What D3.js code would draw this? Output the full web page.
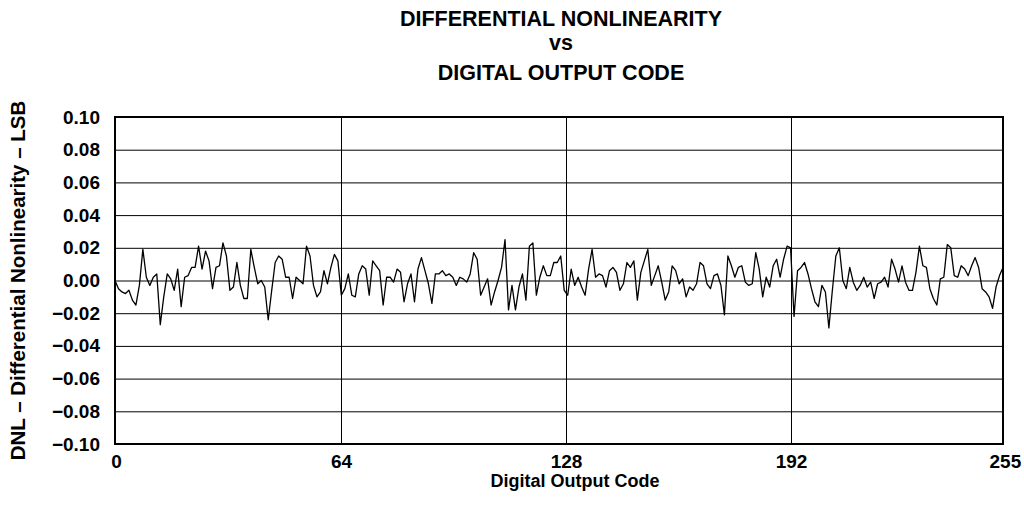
<!DOCTYPE html>
<html>
<head>
<meta charset="utf-8">
<script src="https://cdn.jsdelivr.net/npm/d3@7"></script>
<style>
  body { margin: 0; background: #fff; }
  text { font-family: "Liberation Sans", Arial, sans-serif; font-weight: bold; fill: #000; }
</style>
</head>
<body>
<div id="chart"></div>
<script>
// DNL per output code (LSB)
var dnl = [
    0.000, -0.005, -0.007, -0.008, -0.006, -0.012, -0.015, -0.003, 0.019, 0.002, -0.003, 0.002, 0.004, -0.027, -0.010, 0.004, 0.001, -0.006, 0.007, -0.016, 0.002, 0.003, 0.008,
    0.008, 0.021, 0.007, 0.018, 0.012, -0.005, 0.008, 0.009, 0.023, 0.015, -0.006, -0.004, 0.011, -0.003, -0.011, -0.011, 0.019, 0.008, -0.002, 0.000, -0.004,
    -0.024, -0.006, 0.011, 0.015, 0.013, 0.002, 0.002, -0.011, 0.002, 0.000, -0.002, 0.021, 0.015, -0.003, -0.010, -0.007, 0.006, -0.002, 0.008, 0.016, 0.012,
    -0.009, -0.005, 0.004, -0.009, -0.010, 0.004, 0.009, 0.007, -0.009, 0.012, 0.009, 0.006, -0.015, 0.002, 0.002, -0.001, 0.007, 0.005, -0.013, -0.002, 0.004,
    -0.013, 0.007, 0.014, 0.006, -0.002, -0.014, 0.004, 0.004, 0.006, 0.003, 0.004, 0.002, -0.003, 0.002, 0.001, -0.001, 0.004, 0.017, 0.013, -0.009, -0.004, 0.001,
    -0.015, -0.007, 0.000, 0.008, 0.025, -0.018, -0.003, -0.018, -0.004, 0.004, -0.012, 0.021, 0.023, -0.009, 0.002, 0.009, 0.003, 0.003, 0.011, 0.011, 0.015,
    -0.006, -0.009, 0.007, -0.003, 0.002, -0.004, -0.009, 0.007, 0.019, 0.002, 0.004, 0.003, -0.004, 0.006, 0.008, 0.005, -0.006, -0.002, 0.011, 0.008, 0.012, -0.012,
    0.005, 0.012, 0.019, -0.003, 0.003, 0.009, -0.001, -0.012, -0.007, 0.009, 0.006, -0.002, 0.001, -0.010, -0.004, -0.006, -0.002, 0.011, 0.009, -0.002, -0.005,
    0.003, 0.004, -0.003, -0.021, 0.015, 0.009, 0.002, 0.008, 0.009, -0.001, -0.003, -0.002, 0.017, 0.007, -0.010, 0.002, -0.004, 0.009, 0.013, 0.002, 0.013, 0.021,
    0.020, -0.022, 0.006, 0.008, 0.011, 0.004, -0.005, -0.013, -0.016, -0.003, -0.007, -0.029, -0.006, 0.015, 0.020, 0.000, -0.005, 0.008, -0.001, -0.006,
    -0.003, 0.002, -0.004, -0.001, -0.011, -0.002, -0.001, 0.002, -0.004, 0.013, 0.007, -0.001, 0.009, -0.001, -0.006, -0.006, 0.005, 0.021, 0.009, 0.008, -0.005,
    -0.011, -0.015, 0.001, 0.002, 0.022, 0.020, 0.003, 0.002, 0.009, 0.007, 0.003, 0.009, 0.014, 0.008, -0.005, -0.007, -0.010, -0.017, -0.004, 0.003, 0.008
];
var xGrid = [64, 128, 192];
var xTicks = [0, 64, 128, 192, 255];
var yTicks = [-0.10, -0.08, -0.06, -0.04, -0.02, 0.00, 0.02, 0.04, 0.06, 0.08, 0.10];
var titleLines = ["DIFFERENTIAL NONLINEARITY", "vs", "DIGITAL OUTPUT CODE"];

var width = 1024;
var height = 523;
var plotLeft = 115, plotRight = 1003, plotTop = 117, plotBottom = 444;

var svg = d3.select("#chart")
    .append("svg")
    .attr("width", width)
    .attr("height", height);

// data scale: codes 0..255 across the frame
var x = d3.scaleLinear().domain([0, 255]).range([plotLeft, plotRight]);
// the printed axis divisions are 0/64/128/192 on a slightly wider pitch
var xAxisScale = d3.scaleLinear().domain([0, 252.3]).range([plotLeft + 1, plotRight]);
var y = d3.scaleLinear().domain([-0.10, 0.10]).range([plotBottom, plotTop]);

// horizontal grid
svg.append("g")
    .attr("transform", "translate(" + plotLeft + ",0)")
    .call(d3.axisLeft(y).tickValues(yTicks).tickSize(-(plotRight - plotLeft)).tickFormat(""))
    .call(function (g) { g.select(".domain").remove(); })
    .selectAll("line")
    .attr("stroke", "#000")
    .attr("stroke-width", 1);

// vertical grid
svg.append("g")
    .attr("transform", "translate(0," + plotBottom + ")")
    .call(d3.axisBottom(xAxisScale).tickValues(xGrid).tickSize(-(plotBottom - plotTop)).tickFormat(""))
    .call(function (g) { g.select(".domain").remove(); })
    .selectAll("line")
    .attr("stroke", "#000")
    .attr("stroke-width", 1);

// data
var line = d3.line()
    .x(function (d, i) { return x(i); })
    .y(function (d) { return y(d); });

svg.append("path")
    .datum(dnl)
    .attr("d", line)
    .attr("fill", "none")
    .attr("stroke", "#000")
    .attr("stroke-width", 1.3)
    .attr("stroke-linejoin", "round");

// frame
svg.append("rect")
    .attr("x", plotLeft)
    .attr("y", plotTop)
    .attr("width", plotRight - plotLeft)
    .attr("height", plotBottom - plotTop)
    .attr("fill", "none")
    .attr("stroke", "#000")
    .attr("stroke-width", 2);

// tick labels
var yAxis = svg.append("g")
    .attr("transform", "translate(" + (plotLeft - 12) + ",0)")
    .call(d3.axisLeft(y).tickValues(yTicks).tickSize(0)
        .tickFormat(function (d) { return d3.format(".2f")(d).replace("-", "\u2212"); }));
yAxis.select(".domain").remove();
yAxis.selectAll("text")
    .attr("font-size", "19px")
    .attr("font-family", "Liberation Sans, Arial, sans-serif")
    .attr("font-weight", "bold");

var xAxis = svg.append("g")
    .attr("transform", "translate(0," + (plotBottom + 7) + ")")
    .call(d3.axisBottom(xAxisScale).tickValues(xTicks).tickSize(0).tickFormat(d3.format("d")));
xAxis.select(".domain").remove();
xAxis.selectAll("text")
    .attr("font-size", "19px")
    .attr("font-family", "Liberation Sans, Arial, sans-serif")
    .attr("font-weight", "bold")
    .attr("dx", function (d) { return d === 255 ? "-0.4em" : 0; });

// titles
svg.selectAll(".title")
    .data(titleLines)
    .enter()
    .append("text")
    .attr("class", "title")
    .attr("x", 561)
    .attr("y", function (d, i) { return [26, 50, 80][i]; })
    .attr("text-anchor", "middle")
    .attr("font-size", "21.5px")
    .text(function (d) { return d; });

svg.append("text")
    .attr("x", 575)
    .attr("y", 487)
    .attr("text-anchor", "middle")
    .attr("font-size", "18px")
    .text("Digital Output Code");

svg.append("text")
    .attr("transform", "translate(25," + ((plotTop + plotBottom) / 2) + ") rotate(-90)")
    .attr("text-anchor", "middle")
    .attr("font-size", "20.5px")
    .text("DNL \u2013 Differential Nonlinearity \u2013 LSB");
</script>
</body>
</html>
